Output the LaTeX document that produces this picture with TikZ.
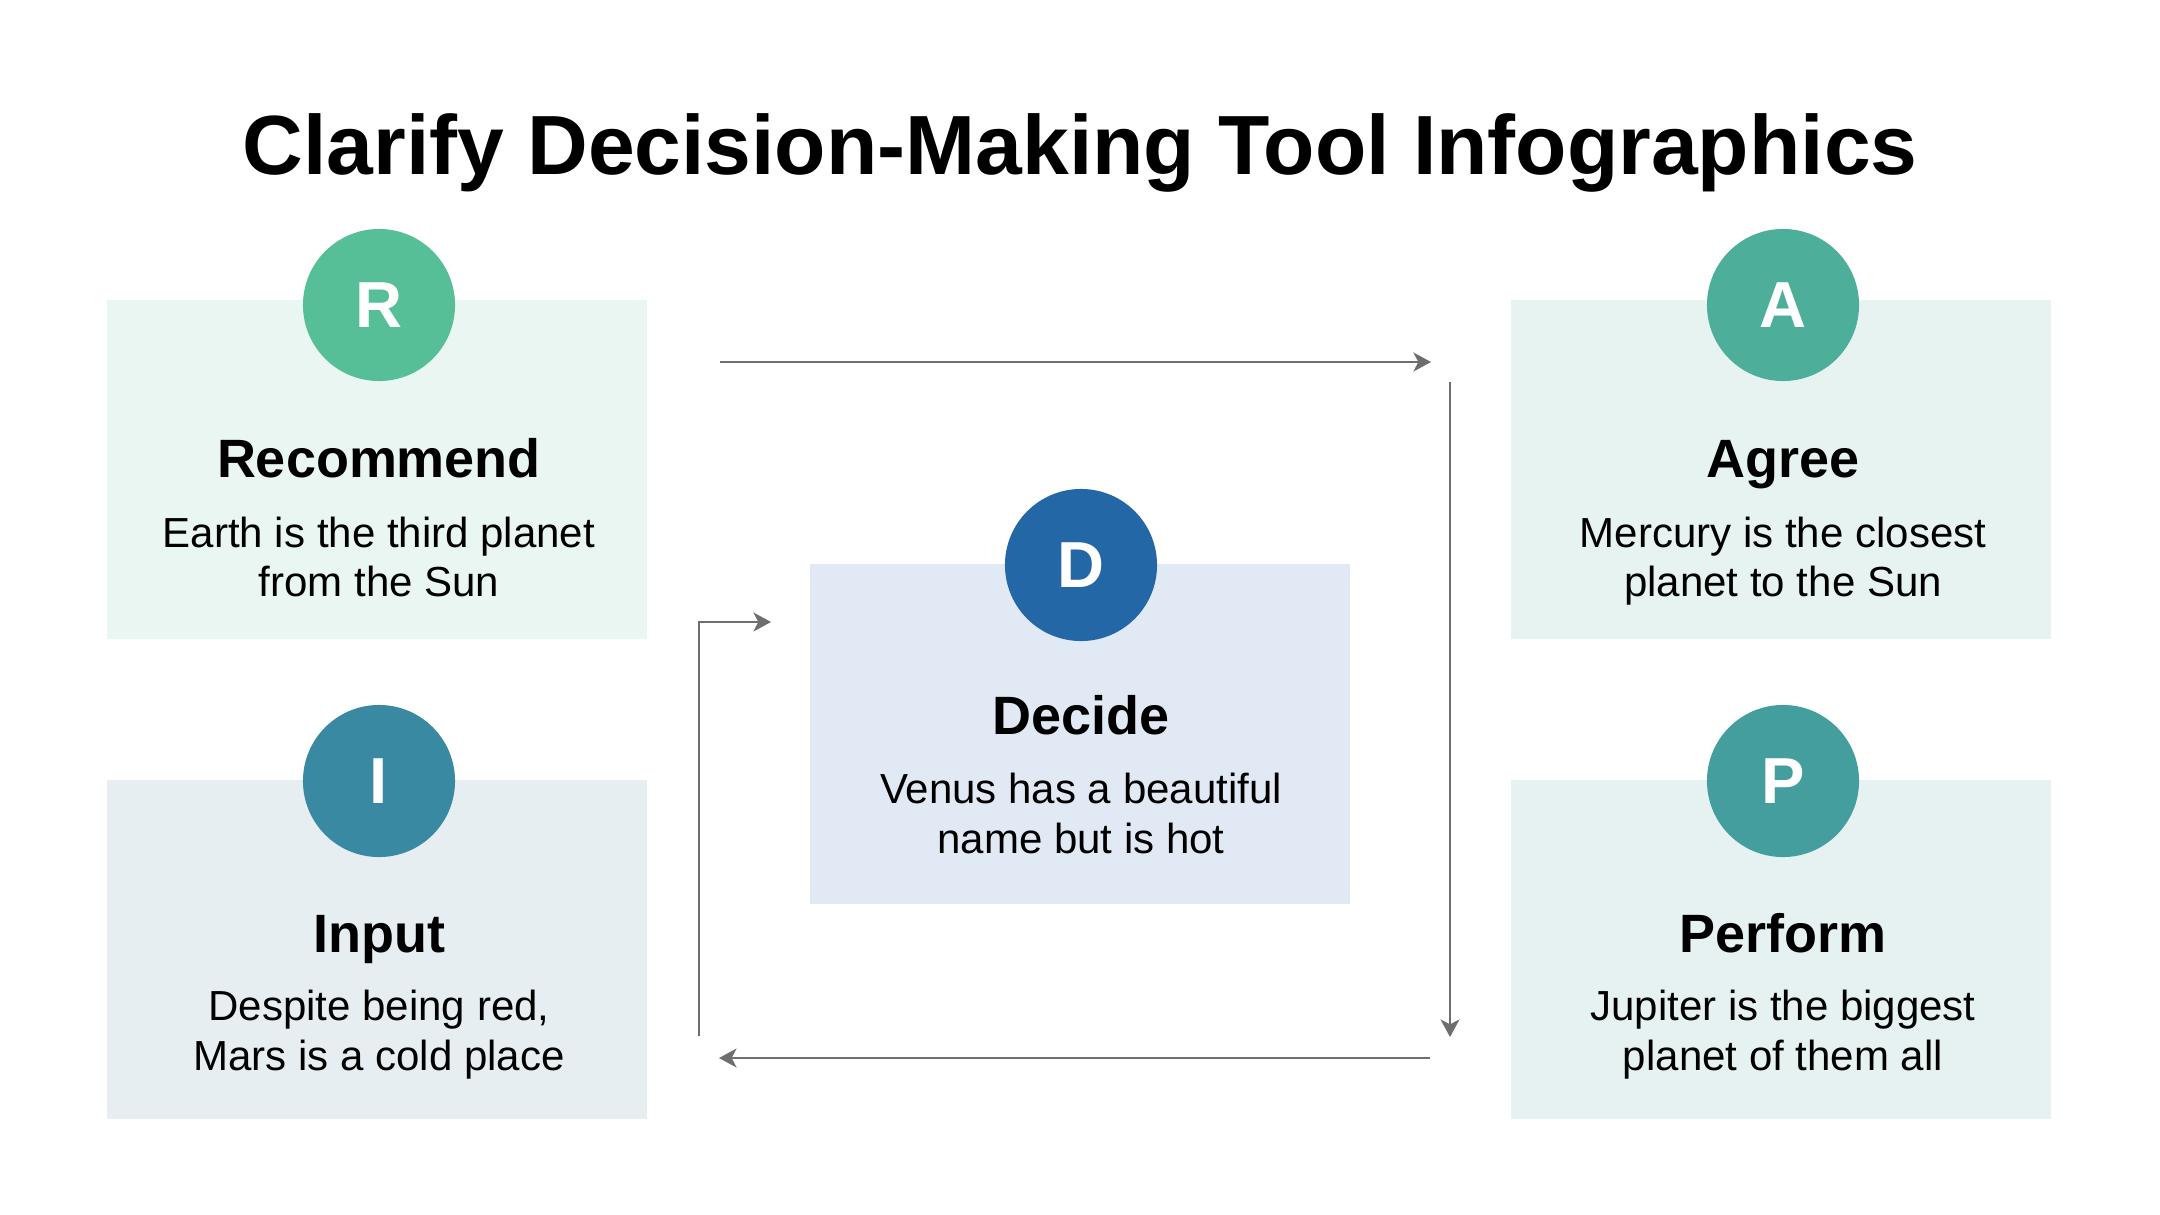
\documentclass[tikz,border=0pt]{standalone}
\usepackage{fontspec}
\setmainfont{Liberation Sans}
\usetikzlibrary{arrows.meta}
\definecolor{rcirc}{HTML}{57BF98}
\definecolor{rbox}{HTML}{E9F6F1}
\definecolor{acirc}{HTML}{4DAF9A}
\definecolor{abox}{HTML}{E6F3F1}
\definecolor{pcirc}{HTML}{439E9D}
\definecolor{pbox}{HTML}{E6F1F1}
\definecolor{icirc}{HTML}{3889A1}
\definecolor{ibox}{HTML}{E6EEF1}
\definecolor{dcirc}{HTML}{2467A7}
\definecolor{dbox}{HTML}{E1EAF4}
\definecolor{arrowgray}{HTML}{6E6E6E}
\begin{document}
\begin{tikzpicture}[x=0.01cm,y=-0.01cm,
  card/.style={draw=none,inner sep=0pt,minimum width=5.4cm,minimum height=3.39cm},
  badge/.style={circle,draw=none,inner sep=0pt,minimum size=1.52cm,text=white,font=\fontsize{18.5}{20}\selectfont\bfseries},
  heading/.style={anchor=base,inner sep=0pt,font=\fontsize{15.35}{18}\selectfont\bfseries},
  body/.style={anchor=base,inner sep=0pt,font=\fontsize{11.95}{14}\selectfont},
  flow/.style={draw=arrowgray,line width=0.57pt,-{Stealth[length=5pt,width=5.4pt,inset=1.4pt]}}
]
\useasboundingbox (0,0) rectangle (2160,1215);
\fill[white] (0,0) rectangle (2160,1215);

% title
\node[anchor=base,inner sep=0pt,font=\fontsize{23.9}{28}\selectfont\bfseries] (title) at (1080,174) {Clarify Decision-Making Tool Infographics};

% Recommend
\node[card,fill=rbox] (rbox) at (377,469.5) {};
\node[badge,fill=rcirc] (rc) at (379,305) {R};
\node[heading] (rh) at (379,477) {Recommend};
\node[body] (rb1) at (379,547) {Earth is the third planet};
\node[body] (rb2) at (379,596) {from the Sun};

% Agree
\node[card,fill=abox] (abox) at (1781,469.5) {};
\node[badge,fill=acirc] (ac) at (1783,305) {A};
\node[heading] (ah) at (1783,477) {Agree};
\node[body] (ab1) at (1783,547) {Mercury is the closest};
\node[body] (ab2) at (1783,596) {planet to the Sun};

% Input
\node[card,fill=ibox] (ibox) at (377,949.5) {};
\node[badge,fill=icirc] (ic) at (379,781) {I};
\node[heading] (ih) at (379,952) {Input};
\node[body] (ib1) at (379,1020) {Despite being red,};
\node[body] (ib2) at (379,1070) {Mars is a cold place};

% Perform
\node[card,fill=pbox] (pbox) at (1781,949.5) {};
\node[badge,fill=pcirc] (pc) at (1783,781) {P};
\node[heading] (ph) at (1783,952) {Perform};
\node[body] (pb1) at (1783,1020) {Jupiter is the biggest};
\node[body] (pb2) at (1783,1070) {planet of them all};

% Decide
\node[card,fill=dbox] (dbox) at (1080,734) {};
\node[badge,fill=dcirc] (dc) at (1081,565) {D};
\node[heading] (dh) at (1081,734) {Decide};
\node[body] (db1) at (1081,803) {Venus has a beautiful};
\node[body] (db2) at (1081,853) {name but is hot};

% connectors
\coordinate (t1) at (720,362);
\coordinate (t2) at (1431,362);
\coordinate (v1) at (1450,382);
\coordinate (v2) at (1450,1037);
\coordinate (b1) at (1430,1058);
\coordinate (b2) at (719,1058);
\coordinate (l1) at (699,1036);
\coordinate (l2) at (771,622);
\draw[flow] (t1) -- (t2);
\draw[flow] (v1) -- (v2);
\draw[flow] (b1) -- (b2);
\draw[flow] (l1) |- (l2);
\end{tikzpicture}
\end{document}
